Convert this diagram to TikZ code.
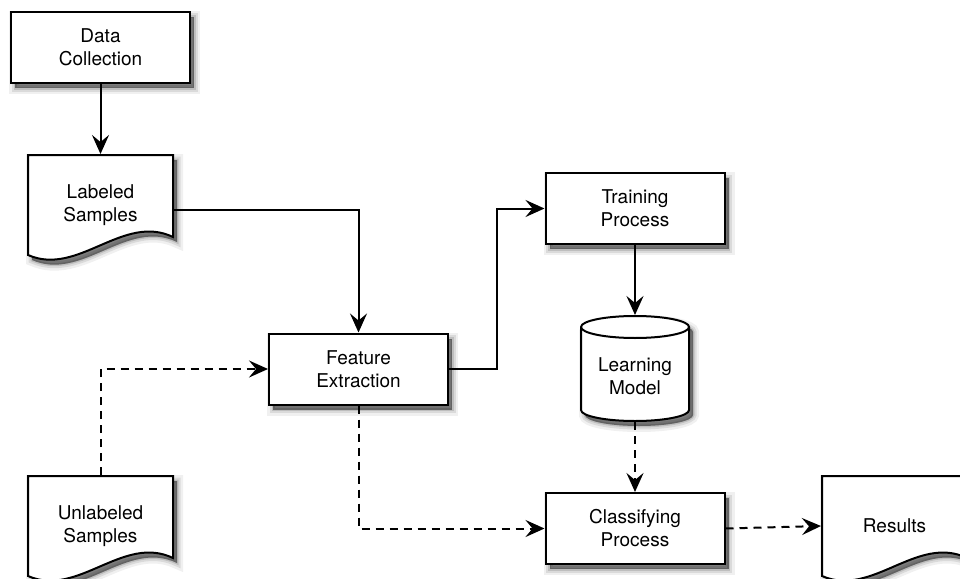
\documentclass[tikz,border=0pt]{standalone}
\usepackage{fontspec}
\setmainfont{TeX Gyre Heros}
\usetikzlibrary{arrows.meta,calc,shadows}
\begin{document}
\begin{tikzpicture}[x=1pt,y=-1pt,
  line width=2pt,
  arr/.style={-{Stealth[length=19pt,width=17pt,inset=7pt]}, line width=2pt},
  dsh/.style={dash pattern=on 8pt off 6pt},
  shad/.style={
    general shadow={shadow xshift=4pt,shadow yshift=-5pt,fill=black,draw=black,line width=12pt,opacity=0.06},
    general shadow={shadow xshift=4pt,shadow yshift=-5pt,fill=black,draw=black,line width=7pt,opacity=0.09},
    general shadow={shadow xshift=4pt,shadow yshift=-5pt,fill=black,draw=black,line width=3pt,opacity=0.13},
    general shadow={shadow xshift=4pt,shadow yshift=-5pt,fill=black,opacity=0.3}},
  txt/.style={align=center, font=\fontsize{19}{23}\selectfont, inner sep=0pt, text=black},
  box/.style={txt, draw, fill=white, shad, minimum width=179pt, minimum height=71pt},
  doc/.style={draw, fill=white, shad},
]
\useasboundingbox (0,0) rectangle (960,578);
\clip (0,0) rectangle (960,578);
\newcommand\docpath[1]{\path[doc,shift={#1}] (0,0) -- (145,0) -- (145,82) .. controls (95,58) and (50,122) .. (0,100) -- cycle;}
% document shapes
\docpath{(28,155)}
\docpath{(28,476)}
\docpath{(822,476)}
% cylinder
\path[doc] (581,327) -- (581,410) arc[start angle=180,end angle=360,x radius=54pt,y radius=11pt]
  -- (689,327) arc[start angle=0,end angle=180,x radius=54pt,y radius=11pt] -- cycle;
\draw (581,327) arc[start angle=180,end angle=360,x radius=54pt,y radius=11pt];
% nodes
\node[box] (dc) at (100.5,47.5) {Data\\Collection};
\node[txt, minimum width=145pt, minimum height=100pt] (ls) at (100.5,205) {Labeled\\Samples};
\node[txt, minimum width=145pt, minimum height=100pt] (uls) at (100.5,526) {Unlabeled\\Samples};
\node[txt, minimum width=145pt, minimum height=100pt] (res) at (894.5,526) {Results};
\node[box] (fe) at (358.5,369) {Feature\\Extraction};
\node[box] (tp) at (635,208.5) {Training\\Process};
\node[box] (cp) at (635,528.5) {Classifying\\Process};
\node[minimum width=108pt, minimum height=105pt, inner sep=0pt] (lm) at (635,368.5) {};
\node[txt] (lmt) at (635,376) {Learning\\Model};
% connectors
\draw[arr] (dc.south) -- (ls.north);
\draw[arr] ($(ls.east)+(0,5)$) -| (fe.north);
\draw[arr] (fe.east) -- ++(48,0) |- (tp.west);
\draw[arr] (tp.south) -- (lm.north);
\draw[arr,dsh] (lm.south) -- (cp.north);
\draw[arr,dsh] (uls.north) |- (fe.west);
\draw[arr,dsh] (fe.south) |- (cp.west);
\draw[arr,dsh] (cp.east) -- (res.west);
\end{tikzpicture}
\end{document}
